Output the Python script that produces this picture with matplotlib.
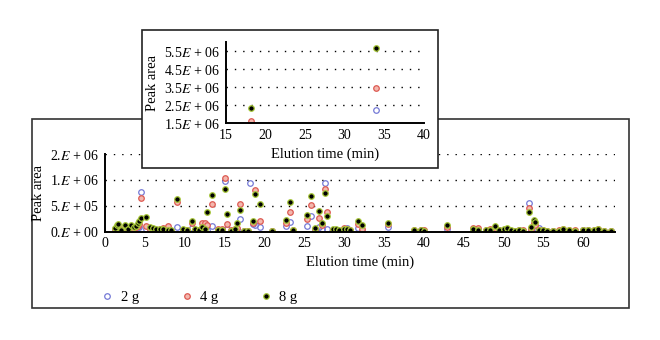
import matplotlib.pyplot as plt
from matplotlib.patches import Rectangle

plt.rcParams['font.family'] = ['Liberation Serif', 'DejaVu Serif']
plt.rcParams['mathtext.fontset'] = 'stix'

# Tiempos de retención (min) y áreas de pico (x 1e5) para cada muestra
tiempo = [1.2, 1.5, 1.7, 2.0, 2.5, 2.9, 3.3, 3.6, 3.9, 4.1, 4.3, 4.5, 5.2, 5.6,
          6.0, 6.4, 6.9, 7.3, 7.9, 8.3, 9.0, 9.8, 10.3, 10.9, 11.3, 11.8, 12.2,
          12.5, 12.8, 13.4, 14.2, 14.7, 15.0, 15.3, 15.8, 16.3, 16.6, 17.0, 17.5,
          18.0, 18.2, 18.6, 18.8, 19.4, 21.0, 22.7, 23.2, 23.6, 25.4, 25.8, 26.4,
          26.9, 27.2, 27.6, 27.9, 28.6, 29.0, 29.4, 30.0, 30.4, 30.8, 31.7, 32.2,
          34.0, 35.5, 38.8, 39.6, 40.0, 42.9, 46.2, 46.8, 47.8, 48.3, 48.9, 49.4,
          50.0, 50.4, 51.0, 51.5, 52.0, 52.5, 53.2, 53.5, 53.8, 54.0, 54.4, 55.0,
          55.5, 56.2, 57.0, 57.5, 58.2, 59.0, 60.0, 60.6, 61.3, 61.8, 62.6, 63.5]

area_2g = [0.3, 0.5, 0.6, 0.2, 0.4, 0.3, 0.6, 0.5, 0.4, 0.9, 1.0, 7.6, 0.6, 0.4,
           0.3, 0.2, 0.4, 0.3, 0.3, 0.2, 1.0, 0.2, 0.1, 0.8, 0.3, 0.2, 0.6,
           0.9, 0.4, 1.2, 0.1, 0.3, 9.8, 0.6, 0.2, 0.3, 0.6, 2.4, 0.1,
           0.2, 9.4, 1.5, 1.3, 1.0, 0.1, 1.2, 1.9, 0.2, 1.2, 3.0, 0.3,
           0.9, 0.6, 9.4, 0.5, 0.2, 0.2, 0.1, 0.6, 0.7, 0.2, 0.8, 0.2,
           22.0, 1.0, 0.2, 0.3, 0.2, 0.6, 0.3, 0.3, 0.2, 0.3, 0.4, 0.3,
           0.3, 0.4, 0.1, 0.1, 0.3, 0.2, 5.5, 0.4, 0.9, 0.8, 0.8, 0.2,
           0.1, 0.1, 0.2, 0.4, 0.2, 0.2, 0.3, 0.3, 0.2, 0.4, 0.1, 0.1]

area_4g = [0.5, 0.8, 1.0, 0.3, 0.8, 0.5, 0.9, 0.6, 0.9, 1.2, 1.5, 6.6, 1.2, 0.6,
           0.5, 0.3, 0.6, 0.7, 1.1, 0.2, 5.8, 0.4, 0.3, 1.7, 0.4, 0.3, 1.7,
           1.7, 1.4, 5.3, 0.5, 0.6, 10.3, 1.5, 0.3, 0.5, 0.8, 5.3, 0.2,
           0.2, 16.3, 1.7, 8.1, 2.1, 0.1, 1.7, 3.8, 0.3, 2.5, 5.2, 0.5,
           2.7, 1.3, 8.3, 3.9, 0.4, 0.3, 0.2, 0.8, 0.6, 0.3, 1.5, 0.6,
           34.3, 1.5, 0.3, 0.3, 0.3, 0.9, 0.7, 0.7, 0.3, 0.5, 0.8, 0.3,
           0.4, 0.6, 0.2, 0.2, 0.4, 0.3, 4.6, 0.5, 1.8, 1.3, 0.3, 0.3,
           0.2, 0.2, 0.3, 0.6, 0.3, 0.3, 0.3, 0.3, 0.3, 0.6, 0.2, 0.2]

area_8g = [0.8, 1.3, 1.5, 0.4, 1.3, 0.6, 1.3, 1.0, 1.2, 1.8, 2.0, 2.6, 2.9, 1.0,
           0.8, 0.5, 0.5, 0.6, 0.3, 0.3, 6.3, 0.6, 0.4, 2.0, 0.5, 0.4, 1.0,
           0.6, 3.8, 7.1, 0.3, 0.4, 8.3, 3.4, 0.1, 0.6, 1.8, 4.3, 0.2,
           0.1, 23.5, 2.0, 7.3, 5.3, 0.1, 2.3, 5.7, 0.4, 3.3, 6.9, 0.7,
           4.0, 1.8, 7.4, 3.1, 0.6, 0.5, 0.3, 0.6, 0.5, 0.4, 2.0, 1.3,
           57.0, 1.7, 0.3, 0.4, 0.2, 1.3, 0.5, 0.4, 0.3, 0.4, 1.2, 0.4,
           0.5, 0.7, 0.3, 0.2, 0.3, 0.2, 3.9, 1.0, 2.3, 1.9, 0.3, 0.4,
           0.2, 0.2, 0.2, 0.5, 0.3, 0.2, 0.3, 0.3, 0.3, 0.5, 0.2, 0.2]

series = [
    ('2 g', area_2g, dict(marker='o', mfc='none', mec='#7479d6', mew=0.9)),
    ('4 g', area_4g, dict(marker='o', mfc='#f3b7ae', mec='#dd5a52', mew=0.9)),
    ('8 g', area_8g, dict(marker='o', mfc='black', mec='#a9c93a', mew=0.9)),
]

ticks_main = [0, 5e5, 1e6, 1.5e6]
labels_main = ['0.$E$ + 00', '5.$E$ + 05', '1.$E$ + 06', '2.$E$ + 06']
ticks_inset = [1.5e6, 2.5e6, 3.5e6, 4.5e6, 5.5e6]
labels_inset = ['1.5$E$ + 06', '2.5$E$ + 06', '3.5$E$ + 06', '4.5$E$ + 06', '5.5$E$ + 06']


def estilo(ax, xlim, ylim, xticks, yticks, ylabels):
    for nombre, datos, st in series:
        ax.plot(tiempo, [v * 1e5 for v in datos], ls='none', ms=4, label=nombre, **st)
    ax.set_xlim(*xlim)
    ax.set_ylim(*ylim)
    ax.set_xticks(xticks)
    ax.set_yticks(yticks)
    ax.set_yticklabels(ylabels)
    for s in ['top', 'right']:
        ax.spines[s].set_visible(False)
    for s in ['left', 'bottom']:
        ax.spines[s].set_linewidth(1.4)
    ax.tick_params(length=0, labelsize=10, pad=4)
    ax.grid(axis='y', color='black', ls=(0, (1, 5)), lw=1)
    ax.set_xlabel('Elution time (min)', fontsize=10.5, labelpad=4)
    ax.set_ylabel('Peak area', fontsize=10.5, labelpad=4)


fig = plt.figure(figsize=(6.6, 3.4), dpi=100)

fig.patches.append(Rectangle((0.048, 0.094), 0.905, 0.556, transform=fig.transFigure,
                             fill=False, ec='#333333', lw=1.2, zorder=0.5))

ax = fig.add_axes([0.159, 0.318, 0.773, 0.229], zorder=1)
estilo(ax, (0, 64), (0, 1.5e6), range(0, 65, 5), ticks_main, labels_main)
ax.legend(loc='center left', bbox_to_anchor=(-0.038, -0.84), ncol=3, frameon=False,
          fontsize=10.5, handletextpad=0.3, columnspacing=2.7, handlelength=1.2)

fig.patches.append(Rectangle((0.215, 0.506), 0.449, 0.406, transform=fig.transFigure,
                             fc='white', ec='#222222', lw=1.2, zorder=2))

axi = fig.add_axes([0.342, 0.638, 0.300, 0.238], zorder=3)
axi.patch.set_alpha(0)
estilo(axi, (15, 40), (1.5e6, 6.0e6), range(15, 41, 5), ticks_inset, labels_inset)

fig.savefig('out.png', dpi=100)
